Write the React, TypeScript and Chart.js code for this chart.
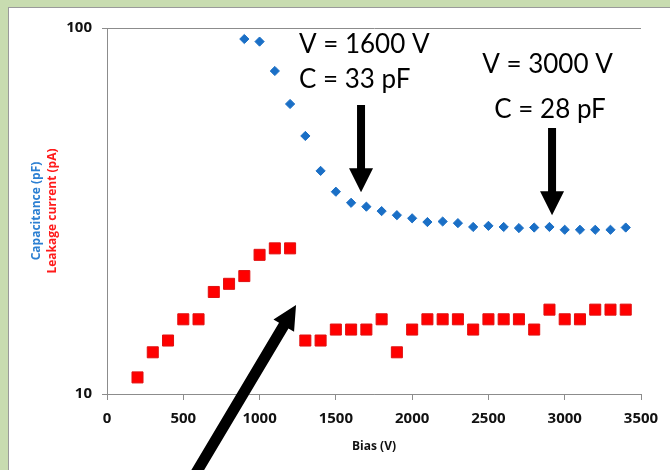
import React, { useEffect, useRef } from 'react';
import { Chart, registerables } from 'chart.js';

Chart.register(...registerables);

// ---- data ----
const leakageBias = [200, 300, 400, 500, 600, 700, 800, 900, 1000, 1100, 1200, 1300, 1400, 1500, 1600, 1700, 1800, 1900, 2000, 2100, 2200, 2300, 2400, 2500, 2600, 2700, 2800, 2900, 3000, 3100, 3200, 3300, 3400];
const leakageCurrent = [11.1, 13, 14, 16, 16, 19, 20, 21, 24, 25, 25, 14, 14, 15, 15, 15, 16, 13, 15, 16, 16, 16, 15, 16, 16, 16, 15, 17, 16, 16, 17, 17, 17];
const capBias = [900, 1000, 1100, 1200, 1300, 1400, 1500, 1600, 1700, 1800, 1900, 2000, 2100, 2200, 2300, 2400, 2500, 2600, 2700, 2800, 2900, 3000, 3100, 3200, 3300, 3400];
const capacitance = [93.3, 91.8, 76.3, 62, 50.7, 40.7, 35.7, 33.3, 32.5, 31.6, 30.8, 30.2, 29.5, 29.6, 29.3, 28.6, 28.8, 28.6, 28.4, 28.5, 28.6, 28.1, 28.1, 28.1, 28.1, 28.5];
const yTickValues = [10, 100];
const xTickStep = 500;

// annotation texts (data coordinates: x = bias, y = value on log axis)
const noteTexts = [
  { text: 'V = 1600 V', x: 1258, y: 85.5, align: 'left' },
  { text: 'C = 33 pF', x: 1258, y: 68.5, align: 'left' },
  { text: 'V = 3000 V', x: 2887, y: 75.3, align: 'center' },
  { text: 'C = 28 pF', x: 2904, y: 56.8, align: 'center' },
];
const noteArrows = [
  { from: [1665, 61.6], to: [1665, 35.6], shaft: 8 },
  { from: [2917, 53.3], to: [2917, 30.8], shaft: 8 },
  { from: [517, 5.47], to: [1239, 17.5], shaft: 11 },
];

const FONT = 'Lato, "Open Sans", sans-serif';
const BOLD_FONT = '"Open Sans", "Noto Sans", sans-serif';

function drawArrow(ctx: CanvasRenderingContext2D, x1: number, y1: number, x2: number, y2: number, shaft: number, headW: number, headL: number) {
  const dx = x2 - x1, dy = y2 - y1;
  const len = Math.hypot(dx, dy);
  const ux = dx / len, uy = dy / len;
  const px = -uy, py = ux;
  const bx = x2 - ux * headL, by = y2 - uy * headL;
  ctx.beginPath();
  ctx.moveTo(x1 + px * shaft / 2, y1 + py * shaft / 2);
  ctx.lineTo(bx + px * shaft / 2, by + py * shaft / 2);
  ctx.lineTo(bx + px * headW / 2, by + py * headW / 2);
  ctx.lineTo(x2, y2);
  ctx.lineTo(bx - px * headW / 2, by - py * headW / 2);
  ctx.lineTo(bx - px * shaft / 2, by - py * shaft / 2);
  ctx.lineTo(x1 - px * shaft / 2, y1 - py * shaft / 2);
  ctx.closePath();
  ctx.fill();
}

const backgroundPlugin = {
  id: 'bgPanel',
  beforeDraw(chart: any) {
    const { ctx, width, height } = chart;
    ctx.save();
    ctx.fillStyle = '#c8dcb0';
    ctx.fillRect(0, 0, width, height);
    ctx.fillStyle = '#9a9a9a';
    ctx.fillRect(8, 7, width - 8, height - 7);
    ctx.fillStyle = '#ffffff';
    ctx.fillRect(9, 8, width - 9, height - 8);
    ctx.restore();
  },
};

const notesPlugin = {
  id: 'notes',
  afterDraw(chart: any) {
    const { ctx, chartArea } = chart;
    const xs = chart.scales.x;
    const ys = chart.scales.y;
    ctx.save();
    // y-axis titles (two colours)
    const cy = (chartArea.top + chartArea.bottom) / 2;
    ctx.font = `bold 12px ${BOLD_FONT}`;
    ctx.textAlign = 'center';
    ctx.textBaseline = 'middle';
    ctx.save();
    ctx.translate(37, cy);
    ctx.rotate(-Math.PI / 2);
    ctx.fillStyle = '#2b7fd2';
    ctx.fillText('Capacitance (pF)', 0, 0);
    ctx.restore();
    ctx.save();
    ctx.translate(53, cy);
    ctx.rotate(-Math.PI / 2);
    ctx.fillStyle = '#ff1a1a';
    ctx.fillText('Leakage current (pA)', 0, 0);
    ctx.restore();

    // annotation texts
    ctx.fillStyle = '#000000';
    ctx.font = `26px ${FONT}`;
    ctx.textBaseline = 'alphabetic';
    for (const n of noteTexts) {
      ctx.textAlign = n.align;
      ctx.fillText(n.text, xs.getPixelForValue(n.x), ys.getPixelForValue(n.y));
    }
    // arrows
    for (const a of noteArrows) {
      drawArrow(ctx,
        xs.getPixelForValue(a.from[0]), ys.getPixelForValue(a.from[1]),
        xs.getPixelForValue(a.to[0]), ys.getPixelForValue(a.to[1]),
        a.shaft, 24, 24);
    }
    ctx.restore();
  },
};

export default function App() {
  const ref = useRef<HTMLCanvasElement | null>(null);
  useEffect(() => {
    if (!ref.current) return;
    const axisGray = '#8c8c8c';
    const tickFont = { family: BOLD_FONT, weight: 'bold' as const, size: 15 };
    const chart = new Chart(ref.current, {
      type: 'scatter',
      data: {
        datasets: [
          {
            label: 'Capacitance (pF)',
            data: capBias.map((b, i) => ({ x: b, y: capacitance[i] })),
            pointStyle: 'rectRot',
            pointRadius: 4.6,
            backgroundColor: '#1a6fc6',
            borderColor: '#1a6fc6',
            borderWidth: 1,
          },
          {
            label: 'Leakage current (pA)',
            data: leakageBias.map((b, i) => ({ x: b, y: leakageCurrent[i] })),
            pointStyle: 'rect',
            pointRadius: 7.8,
            backgroundColor: '#ff0000',
            borderColor: '#e01010',
            borderWidth: 1,
          },
        ],
      },
      options: {
        responsive: false,
        animation: false,
        clip: false as any,
        layout: { padding: { left: 0, top: 28, right: 29, bottom: 0 } },
        plugins: {
          legend: { display: false },
          tooltip: { enabled: false },
          title: { display: false },
        },
        scales: {
          x: {
            type: 'linear',
            min: 0,
            max: 3500,
            ticks: { stepSize: xTickStep, font: tickFont, color: '#111111', padding: 10, maxRotation: 0, callback: (v: any) => String(v) },
            grid: { drawOnChartArea: false, drawTicks: true, tickLength: 6, color: axisGray },
            border: { color: axisGray, width: 1 },
            title: {
              display: true,
              text: 'Bias (V)',
              color: '#111111',
              font: { family: BOLD_FONT, weight: 'bold', size: 12 },
              padding: { top: 0, bottom: 16 },
            },
            afterFit: (s: any) => { s.height = 76; },
          },
          y: {
            type: 'logarithmic',
            min: 10,
            max: 100,
            afterBuildTicks: (s: any) => { s.ticks = yTickValues.map((v) => ({ value: v })); },
            ticks: { font: tickFont, color: '#111111', padding: 10, callback: (v: any) => String(v) },
            grid: { drawOnChartArea: true, tickLength: 5, color: axisGray },
            border: { color: axisGray, width: 1 },
            afterFit: (s: any) => { s.width = 107; },
          },
        },
      },
      plugins: [backgroundPlugin, notesPlugin],
    });
    return () => chart.destroy();
  }, []);
  return (
    <div style={{ position: 'fixed', left: 0, top: 0, width: 670, height: 470 }}>
      <canvas ref={ref} width={670} height={470} style={{ display: 'block', width: 670, height: 470 }} />
    </div>
  );
}
